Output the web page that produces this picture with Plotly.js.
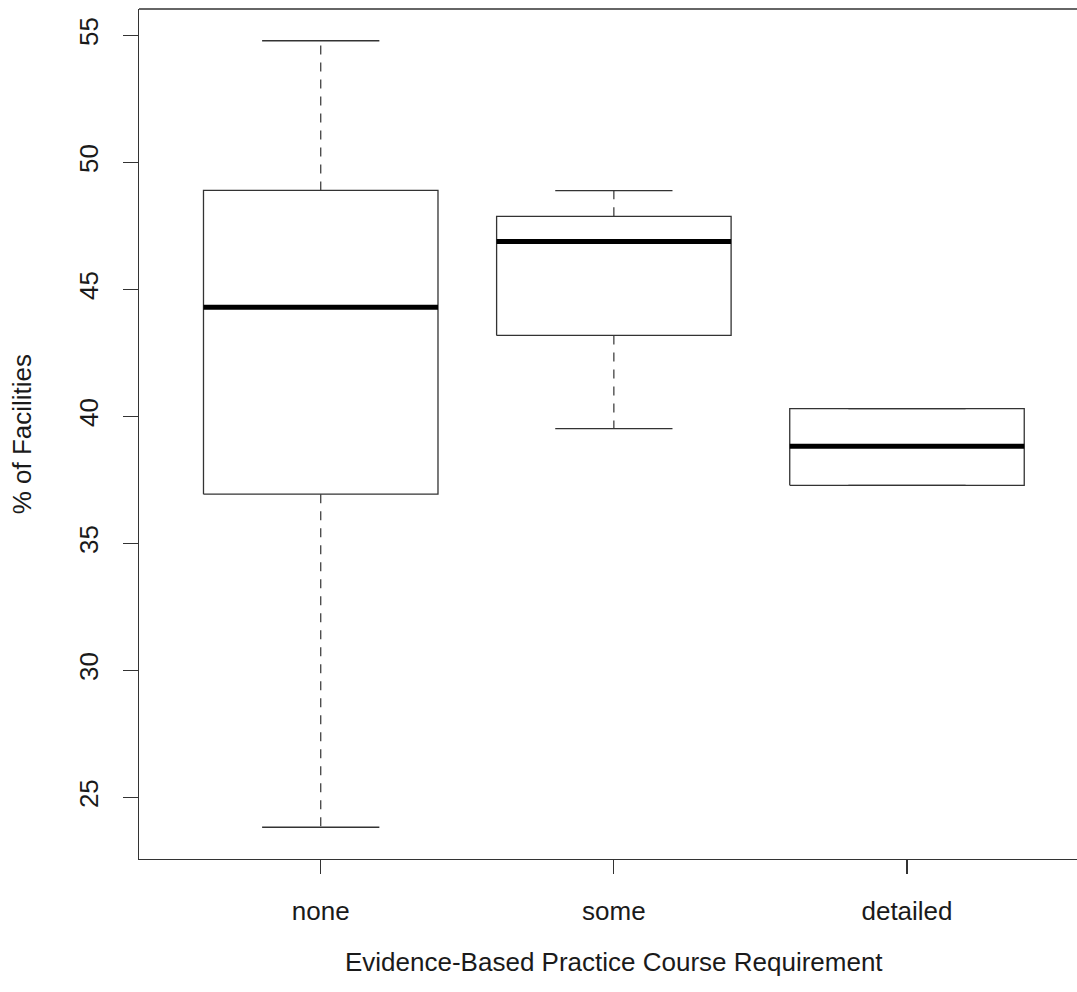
<!DOCTYPE html>
<html>
<head>
<meta charset="utf-8">
<script src="https://cdn.plot.ly/plotly-3.0.1.min.js"></script>
<style>html,body{margin:0;padding:0;background:#fff;}</style>
</head>
<body>
<div id="chart" style="width:1077px;height:992px;"></div>
<script>
// Data
var categories   = ['none', 'some', 'detailed'];
var lowerWhisker = [23.83, 39.52, 37.29];
var q1           = [36.94, 43.19, 37.29];
var median       = [44.30, 46.89, 38.83];
var q3           = [48.90, 47.88, 40.31];
var upperWhisker = [54.79, 48.89, 40.31];
var yTicks       = [25, 30, 35, 40, 45, 50, 55];

var boxHalf = 0.4, capHalf = 0.2;
var bx = [], by = [], mx = [], my = [], wx = [], wy = [], cx = [], cy = [];
categories.forEach(function (c, i) {
  var p = i + 1;
  bx.push(p - boxHalf, p + boxHalf, p + boxHalf, p - boxHalf, p - boxHalf, null);
  by.push(q1[i], q1[i], q3[i], q3[i], q1[i], null);
  mx.push(p - boxHalf, p + boxHalf, null);
  my.push(median[i], median[i], null);
  if (upperWhisker[i] > q3[i]) { wx.push(p, p, null); wy.push(q3[i], upperWhisker[i], null); }
  if (lowerWhisker[i] < q1[i]) { wx.push(p, p, null); wy.push(q1[i], lowerWhisker[i], null); }
  cx.push(p - capHalf, p + capHalf, null, p - capHalf, p + capHalf, null);
  cy.push(upperWhisker[i], upperWhisker[i], null, lowerWhisker[i], lowerWhisker[i], null);
});

var lineCol = '#333333';
var traces = [
  {x: wx, y: wy, mode: 'lines', line: {color: lineCol, width: 1.2, dash: '9px,8px'}, hoverinfo: 'skip'},
  {x: cx, y: cy, mode: 'lines', line: {color: lineCol, width: 1.3}, hoverinfo: 'skip'},
  {x: bx, y: by, mode: 'lines', line: {color: lineCol, width: 1.3}, hoverinfo: 'skip'},
  {x: mx, y: my, mode: 'lines', line: {color: '#000000', width: 5}, hoverinfo: 'skip'}
];

var font = {family: 'Liberation Sans, Arial, sans-serif', size: 26, color: '#1a1a1a'};

var layout = {
  width: 1077, height: 992,
  margin: {l: 139, r: 0, t: 9, b: 133, pad: 0},
  paper_bgcolor: '#ffffff', plot_bgcolor: '#ffffff',
  showlegend: false,
  font: font,
  xaxis: {
    range: [0.38, 3.58], tickvals: [1, 2, 3], ticktext: categories,
    ticks: 'outside', ticklen: 14, tickwidth: 1.2, tickcolor: lineCol,
    showline: true, linecolor: lineCol, linewidth: 1.3,
    showgrid: false, zeroline: false, ticklabelstandoff: 14,
    tickfont: font
  },
  yaxis: {
    range: [22.58, 56.04], tickvals: yTicks, ticktext: yTicks.map(String),
    ticks: 'outside', ticklen: 15, tickwidth: 1.2, tickcolor: lineCol,
    showline: true, linecolor: lineCol, linewidth: 1.3,
    showgrid: false, zeroline: false, tickangle: -90, ticklabelstandoff: 14,
    tickfont: font
  },
  shapes: [
    {type: 'line', xref: 'paper', yref: 'paper', x0: 0, x1: 1, y0: 1, y1: 1,
     line: {color: lineCol, width: 1.3}}
  ],
  annotations: [
    {text: 'Evidence-Based Practice Course Requirement', xref: 'x', yref: 'paper',
     x: 2, y: -0.1206, xanchor: 'center', yanchor: 'middle', showarrow: false, font: font},
    {text: '% of Facilities', xref: 'paper', yref: 'paper', x: -0.1244, y: 0.5,
     textangle: -90, xanchor: 'center', yanchor: 'middle', showarrow: false, font: font}
  ]
};

Plotly.newPlot('chart', traces, layout, {staticPlot: true, displayModeBar: false});
</script>
</body>
</html>
